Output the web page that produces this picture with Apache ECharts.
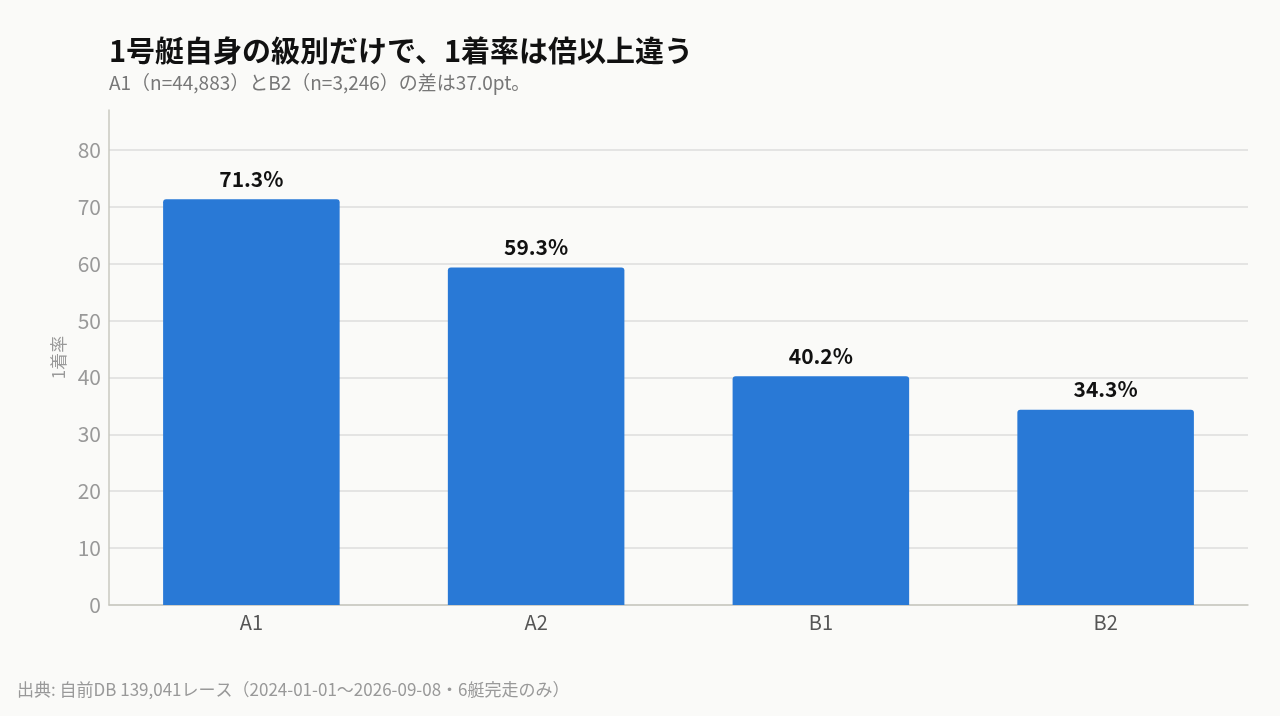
<!DOCTYPE html>
<html>
<head>
<meta charset="utf-8">
<script src="https://cdn.jsdelivr.net/npm/echarts@6/dist/echarts.min.js"></script>
<style>
  html, body { margin: 0; padding: 0; background: #fafaf8; }
  #chart { width: 1280px; height: 716px; }
</style>
</head>
<body>
<div id="chart"></div>
<script>
var classes = ['A1', 'A2', 'B1', 'B2'];   // 級別
var winRate = [71.3, 59.3, 40.2, 34.3];   // 1着率(%)
var yTicks = [0, 10, 20, 30, 40, 50, 60, 70, 80];

var chart = echarts.init(document.getElementById('chart'));
var font = '"Noto Sans CJK JP", "Noto Sans", sans-serif';

var option = {
    backgroundColor: '#fafaf8',
    textStyle: { fontFamily: font },
    title: {
        text: '1号艇自身の級別だけで、1着率は倍以上違う',
        subtext: 'A1（n=44,883）とB2（n=3,246）の差は37.0pt。',
        left: 104,
        top: 31,
        itemGap: 8,
        textStyle: { fontSize: 29, fontWeight: 'bold', color: '#111', fontFamily: font },
        subtextStyle: { fontSize: 19, color: '#777', fontFamily: font }
    },
    grid: { left: 109, right: 32, top: 110, bottom: 111 },
    xAxis: {
        type: 'category',
        data: classes,
        axisTick: { show: false },
        axisLine: { lineStyle: { color: '#c8c8c0', width: 1.5 } },
        axisLabel: { fontSize: 20, color: '#555', margin: 7, fontFamily: font }
    },
    yAxis: {
        type: 'value',
        min: 0,
        max: 87,
        interval: 10,
        name: '1着率',
        nameLocation: 'middle',
        nameGap: 42,
        nameTextStyle: { fontSize: 17, color: '#999', fontFamily: font },
        axisLine: { show: true, lineStyle: { color: '#c8c8c0', width: 1.5 } },
        axisTick: { show: false },
        axisLabel: {
            fontSize: 21, color: '#999', margin: 8, fontFamily: font,
            formatter: function (v) { return yTicks.indexOf(v) >= 0 ? v : ''; }
        },
        splitLine: { showMaxLine: false, lineStyle: { color: '#dcdcdc', width: 1.5 } }
    },
    series: [{
        type: 'bar',
        data: winRate,
        barWidth: '62%',
        itemStyle: { color: '#2979d6', borderRadius: [3, 3, 0, 0] },
        label: {
            show: true,
            position: 'top',
            distance: 10,
            fontSize: 21,
            fontWeight: 'bold',
            color: '#111',
            fontFamily: font,
            formatter: function (p) { return p.value.toFixed(1) + '%'; }
        }
    }],
    graphic: [{
        type: 'text',
        left: 17,
        top: 681,
        style: {
            text: '出典: 自前DB 139,041レース（2024-01-01〜2026-09-08・6艇完走のみ）',
            fontSize: 17,
            fill: '#999',
            fontFamily: font
        }
    }]
};
chart.setOption(option);
</script>
</body>
</html>
